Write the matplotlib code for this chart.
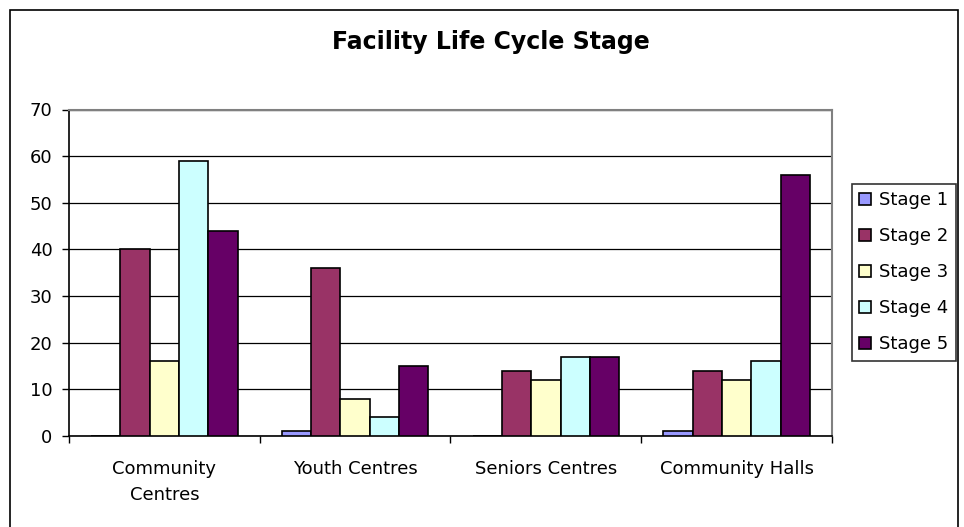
import numpy as np
import matplotlib
matplotlib.use('Agg')
import matplotlib.pyplot as plt
from matplotlib.patches import Rectangle
from matplotlib.ticker import FixedLocator, NullFormatter

categories = ['Community\nCentres', 'Youth Centres', 'Seniors Centres', 'Community Halls']
stages = ['Stage 1', 'Stage 2', 'Stage 3', 'Stage 4', 'Stage 5']
stage1 = [0, 1, 0, 1]
stage2 = [40, 36, 14, 14]
stage3 = [16, 8, 12, 12]
stage4 = [59, 4, 17, 16]
stage5 = [44, 15, 17, 56]
colors = ['#9999FF', '#993366', '#FFFFCC', '#CCFFFF', '#660066']

plt.rcParams['font.family'] = ['DejaVu Sans']

fig = plt.figure(figsize=(9.64, 5.27), dpi=100)
ax = fig.add_axes([69 / 964, 1 - 436 / 527, (832 - 69) / 964, (436 - 109.5) / 527])

x = np.arange(len(categories))
width = 1 / 6.5
series = [stage1, stage2, stage3, stage4, stage5]
for i, (name, vals) in enumerate(zip(stages, series)):
    ax.bar(x + (i - 2) * width, vals, width, color=colors[i], edgecolor='black',
           linewidth=1.2, label=name, zorder=3)

ax.set_xlim(-0.5, len(categories) - 0.5)
ax.set_ylim(0, 70)
ax.set_yticks(range(0, 71, 10))
ax.yaxis.grid(True, color='black', linewidth=0.9, zorder=0)
ax.set_xticks(x)
ax.set_xticklabels(categories, fontsize=13, linespacing=1.6)
ax.xaxis.set_minor_locator(FixedLocator(np.arange(-0.5, len(categories), 1.0)))
ax.xaxis.set_minor_formatter(NullFormatter())
ax.tick_params(axis='x', which='major', length=0, pad=17)
ax.tick_params(axis='x', which='minor', length=5, width=1, direction='out')
ax.tick_params(axis='y', length=5, width=1, direction='out', labelsize=13, pad=7)

for side in ['top', 'right']:
    ax.spines[side].set_color('#808080')
    ax.spines[side].set_linewidth(1.5)
for side in ['left', 'bottom']:
    ax.spines[side].set_color('black')
    ax.spines[side].set_linewidth(1.2)

fig.text(491 / 964, 1 - 42 / 527, 'Facility Life Cycle Stage', ha='center', va='center',
         fontsize=17, fontweight='bold')

leg = fig.legend(loc='upper left', bbox_to_anchor=(852 / 964, 1 - 184 / 527),
                 bbox_transform=fig.transFigure, frameon=True, fancybox=False,
                 fontsize=13, handlelength=0.65, handleheight=0.65, handletextpad=0.45,
                 labelspacing=1.0, borderpad=0.4, borderaxespad=0)
leg.get_frame().set_edgecolor('black')
leg.get_frame().set_linewidth(1.2)

fig.patches.append(Rectangle((9.5 / 964, -0.02), (958 - 9.5) / 964, 1.02 - 9.5 / 527,
                             transform=fig.transFigure, fill=False, edgecolor='black',
                             linewidth=1.2))

fig.savefig('out.png', dpi=100)
